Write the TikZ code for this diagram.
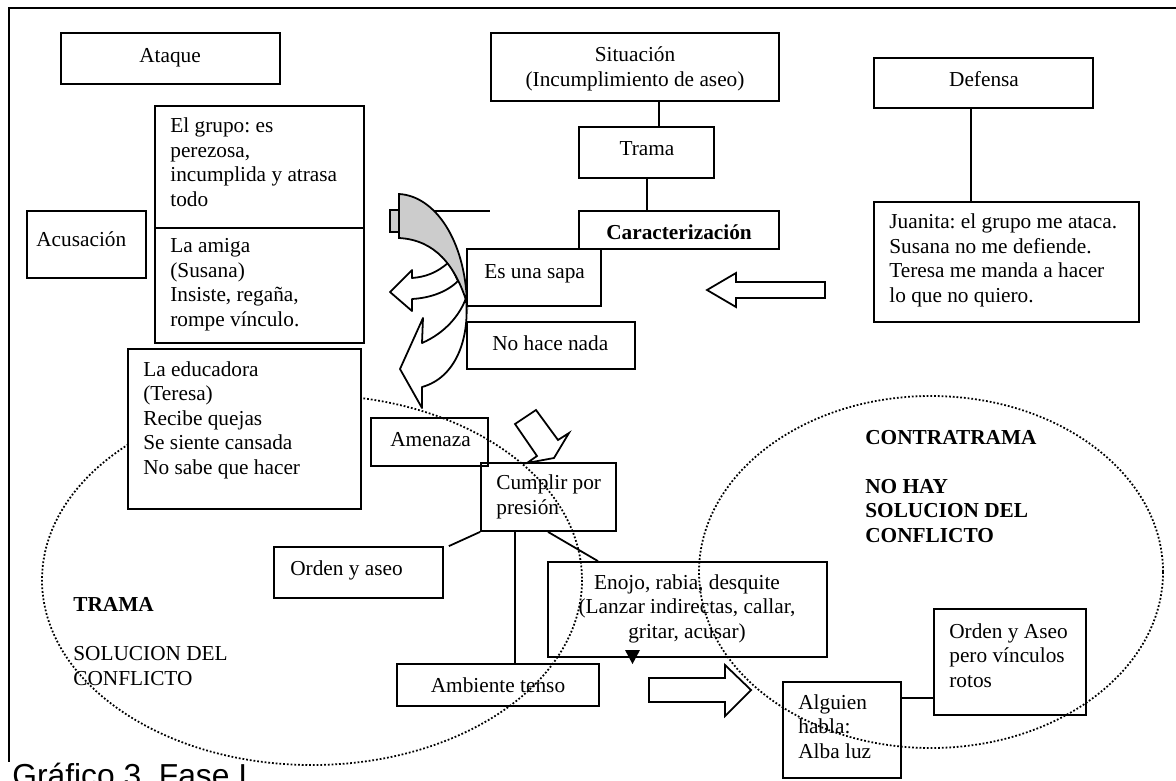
\documentclass[tikz,border=0pt]{standalone}
\usepackage{fontspec}
\setmainfont{Liberation Serif}
\newfontfamily\capfont{Liberation Sans}
\usetikzlibrary{fit}
\frenchspacing
\begin{document}
\begin{tikzpicture}[x=0.5634pt,y=-0.5634pt,
  box/.style={draw, line width=1pt, inner sep=0pt},
  txt/.style={inner sep=0pt, font=\fontsize{12}{13.8}\selectfont\frenchspacing, align=left, anchor=base west},
  ctxt/.style={inner sep=0pt, font=\fontsize{12}{13.8}\selectfont\frenchspacing, align=center, anchor=base},
  ln/.style={line width=1pt},
  dots/.style={line width=1pt, dash pattern=on 1pt off 1.1pt},
  hollow/.style={line width=1pt, fill=white, line join=miter}]
\clip (0,0) rectangle (1176,780);
% frame
\coordinate (fr1) at (1176,8);
\coordinate (fr2) at (9,8);
\coordinate (fr3) at (9,762);
\draw[ln] (fr1) -- (fr2) -- (fr3);

% boxes
\node[box, fit={(61,33) (280,84)}] (ataque) {};
\node[box, fit={(155,106) (364,228)}] (grupo) {};
\node[box, fit={(155,228) (364,343)}] (amiga) {};
\node[box, fit={(27,211) (146,278)}] (acus) {};
\node[box, fit={(491,33) (779,101)}] (sit) {};
\node[box, fit={(579,127) (714,178)}] (trama) {};
\node[box, fit={(579,211) (779,249)}] (carac) {};
\node[box, fit={(467,249) (601,306)}] (sapa) {};
\node[box, fit={(467,322) (635,369)}] (nada) {};
\node[box, fit={(874,58) (1093,108)}] (def) {};
\node[box, fit={(874,202) (1139,322)}] (juan) {};
\node[box, fit={(371,418) (488,466)}] (amen) {};
\node[box, fit={(481,463) (616,531)}] (cumpl) {};
\node[box, fit={(274,547) (443,598)}] (oya) {};
\node[box, fit={(397,664) (599,706)}] (ambi) {};
\node[box, fit={(548,562) (827,657)}] (enojo) {};
\node[box, fit={(783,682) (901,778)}] (alg) {};
\node[box, fit={(934,609) (1086,715)}] (oyap) {};

% connectors
\draw[ln] (sit.south -| 659,0) -- (trama.north -| 659,0);
\draw[ln] (trama.south -| 647,0) -- (carac.north -| 647,0);
\draw[ln] (def.south -| 971,0) -- (juan.north -| 971,0);
\draw[ln] (cumpl.south west) -- ([xshift=2.8pt]oya.north east);
\draw[ln] (cumpl.south -| 515,0) -- (ambi.north -| 515,0);
\draw[ln] (cumpl.south -| 548,0) -- (enojo.north -| 598,0);
\draw[ln] (alg.east |- 0,698) -- (oyap.west |- 0,698);

% texts (multi-line nodes: base = last line)
\node[ctxt] (t-ataque) at (170,62) {Ataque};
\node[ctxt] (t-sit) at (635,86) {Situación\\(Incumplimiento de aseo)};
\node[ctxt] (t-trama) at (647,155) {Trama};
\node[ctxt] (t-carac) at (679,239) {\textbf{Caracterización}};
\node[txt] (t-sapa) at (484,278) {Es una sapa};
\node[txt] (t-nada) at (492,350) {No hace nada};
\node[ctxt] (t-def) at (984,86) {Defensa};
\node[txt] (t-juan) at (889,302) {Juanita: el grupo me ataca.\\Susana no me defiende.\\Teresa me manda a hacer\\lo que no quiero.};
\node[txt] (t-acus) at (36,246) {Acusación};
\node[txt] (t-grupo) at (170,206) {El grupo: es\\perezosa,\\incumplida y atrasa\\todo};
\node[txt] (t-amiga) at (170,326) {La amiga\\(Susana)\\Insiste, regaña,\\rompe vínculo.};
\node[txt] (t-amen) at (390,446) {Amenaza};
\node[txt] (t-cumpl) at (496,514) {Cumplir por\\presión};
\node[txt] (t-oya) at (290,575) {Orden y aseo};
\node[txt] (t-tramab) at (73,685) {\textbf{TRAMA}\\[13.8pt]SOLUCION DEL\\CONFLICTO};
\node[ctxt] (t-enojo) at (687,638) {Enojo, rabia, desquite\\(Lanzar indirectas, callar,\\gritar, acusar)};
\node[ctxt] (t-ambi) at (498,692) {Ambiente tenso};
\node[txt, font=\fontsize{12}{13.8}\selectfont\bfseries] (t-contra) at (865,542) {CONTRATRAMA\\[13.8pt]NO HAY\\SOLUCION DEL\\CONFLICTO};
\node[txt] (t-oyap) at (949,687) {Orden y Aseo\\pero vínculos\\rotos};
\node[txt] (t-alg) at (798,758) {Alguien\\habla:\\Alba luz};

% hollow arrows
\draw[hollow] (825,282) -- (736,282) -- (736,273) -- (707,290) -- (736,307) -- (736,298) -- (825,298) -- cycle;
\draw[hollow] (649,678) -- (725,678) -- (725,665) -- (751,690) -- (725,716) -- (725,702) -- (649,702) -- cycle;
\draw[hollow] (515,424) -- (536,410) -- (558,440) -- (569,433) -- (554,458) -- (527,463) -- (537,456) -- cycle;
\fill (625,650) -- (640,650) -- (632.5,664) -- cycle;

% curved arrows
\draw[hollow, line join=round] (466,298) .. controls (470,340) and (455,378) .. (422,387) -- (422,408) -- (400,369) -- (423,318) -- (422,343) .. controls (445,333) and (460,315) .. (466,298) -- cycle;
\draw[hollow, line join=round] (449,262) .. controls (437,273) and (425,277) .. (412,278) -- (412,270) -- (390,292) -- (412,311) -- (412,299) .. controls (430,298) and (447,292) .. (458,281) -- cycle;
\coordinate (hl1) at (399,211);
\coordinate (hl2) at (490,211);
\draw[ln] (hl1) -- (hl2);
\draw[ln, fill=gray!40] (390,210) rectangle (399,232);
\draw[ln, fill=gray!40] (399,194) .. controls (435,196) and (465,240) .. (467,303) .. controls (455,265) and (435,240) .. (399,238) -- cycle;

% dotted ellipses
\draw[dots] (312,580) ellipse [x radius=270, y radius=185];
\draw[dots] (931,572) ellipse [x radius=232, y radius=176];

% Teresa box on top
\node[box, fill=white, fit={(128,349) (361,509)}] (teresa) {};
\node[txt] (t-teresa) at (143,474) {La educadora\\(Teresa)\\Recibe quejas\\Se siente cansada\\No sabe que hacer};

% caption
\node[anchor=base west, inner sep=0pt, font=\capfont\fontsize{17.9}{20}\selectfont] (cap) at (12,786) {Gráfico 3. Fase I.};
\end{tikzpicture}
\end{document}
